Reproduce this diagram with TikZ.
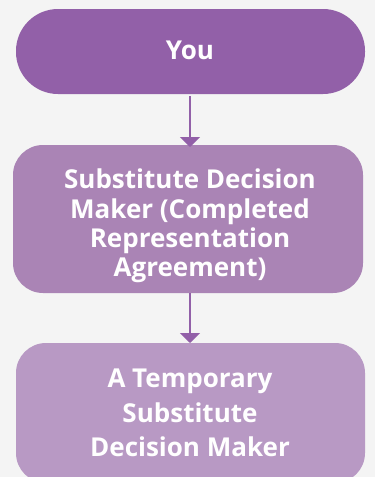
\documentclass[tikz,border=0pt]{standalone}
\usepackage{fontspec}
\setmainfont{Open Sans}[Ligatures=NoCommon]
\usetikzlibrary{arrows.meta}
\definecolor{bg}{HTML}{F4F4F4}
\definecolor{c1}{HTML}{9260A8}
\definecolor{c2}{HTML}{AA84B5}
\definecolor{c3}{HTML}{B899C4}
\tikzset{
  box/.style={rectangle, inner sep=0pt},
  txt/.style={text=white, align=center, inner sep=0pt},
  conn/.style={draw=c1, line width=2pt, -{Triangle[width=20pt,length=10pt]}}
}
\begin{document}
\begin{tikzpicture}[x=1pt,y=-1pt]
\fill[bg] (0,0) rectangle (375,477);
\useasboundingbox (0,0) rectangle (375,477);
\clip (0,0) rectangle (375,477);
\node[box, fill=c1, minimum width=349pt, minimum height=85pt, rounded corners=42pt] (you) at (190.5,51.5) {};
\node[box, fill=c2, minimum width=350pt, minimum height=148pt, rounded corners=30pt] (sdm) at (188,219) {};
\node[box, fill=c3, minimum width=349pt, minimum height=140pt, rounded corners=30pt] (tsdm) at (190.5,413) {};
\node[txt, font=\fontsize{26}{29.3}\selectfont\bfseries] (yout) at (190,50) {You};
\node[txt, font=\fontsize{26}{29.3}\selectfont\bfseries] (sdmt) at (190,226) {Substitute Decision\\Maker (Completed\\Representation\\Agreement)};
\node[txt, font=\fontsize{26}{34.5}\selectfont\bfseries] (tsdmt) at (190,413) {A Temporary\\Substitute\\Decision Maker};
\coordinate (a1s) at (190,96);
\coordinate (a1e) at (190,147);
\coordinate (a2s) at (190,293);
\coordinate (a2e) at (190,343);
\draw[conn] (a1s) -- (a1e);
\draw[conn] (a2s) -- (a2e);
\end{tikzpicture}
\end{document}
